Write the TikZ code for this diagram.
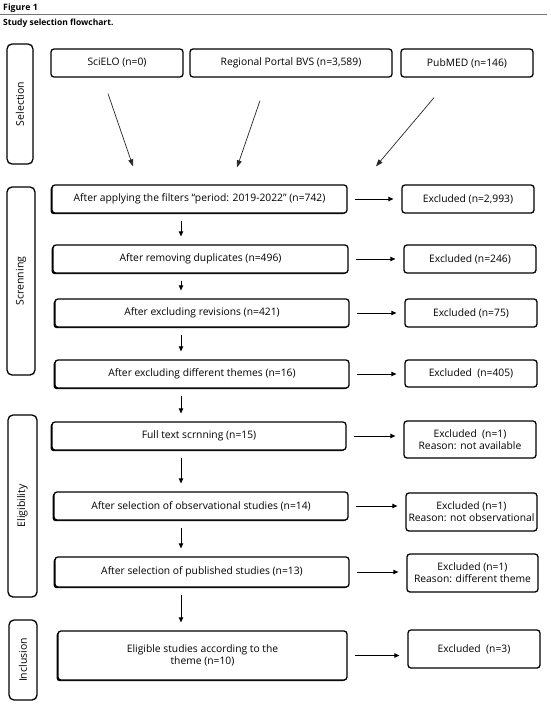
\documentclass[tikz,border=0pt]{standalone}
\usepackage{fontspec}
\setmainfont{Open Sans}
\usetikzlibrary{arrows.meta,shadows,calc}
\begin{document}
\begin{tikzpicture}[x=1pt,y=-1pt,
  box/.style={draw, line width=1.3pt, rounded corners=3pt, fill=white, inner sep=0pt,
    font=\fontsize{10.3}{12}\selectfont, align=center},
  flowbox/.style={box, drop shadow={shadow xshift=-1.4pt, shadow yshift=-1.2pt, fill=black, opacity=1}},
  sidebox/.style={draw, line width=1.3pt, rounded corners=5pt, fill=white, inner sep=0pt,
    rotate=90, font=\fontsize{10.5}{12}\selectfont},
  arr/.style={-{Triangle[length=5pt,width=4.5pt]}, line width=0.8pt},
  darr/.style={-{Triangle[length=7pt,width=5pt]}, line width=0.7pt, draw=black!85}
]
\useasboundingbox (0,0) rectangle (550,704);
% header
\node[anchor=base west, inner sep=0pt, font=\bfseries\fontsize{8.8}{10}\selectfont] (fig) at (3,10.5) {Figure 1};
\draw[line width=1.5pt, draw=black!55] (0,14.5) -- (547,14.5);
\node[anchor=base west, inner sep=0pt, font=\bfseries\fontsize{8.5}{10}\selectfont] (cap) at (3,25) {Study selection flowchart.};

% side labels
\node[sidebox, minimum width=120, minimum height=26] (selL) at (20,104) {Selection};
\node[sidebox, minimum width=188, minimum height=28] (scrL) at (21,281) {Screnning};
\node[sidebox, minimum width=182, minimum height=29] (eliL) at (22.5,506) {Eligibility};
\node[sidebox, minimum width=80, minimum height=28] (incL) at (23,660) {Inclusion};

% sources
\node[box, minimum width=132, minimum height=28] (sci) at (117,63) {SciELO (n=0)};
\node[box, minimum width=202, minimum height=28] (bvs) at (291,63) {Regional Portal BVS (n=3,589)};
\node[box, minimum width=132, minimum height=28] (pub) at (467,63) {PubMED (n=146)};

% flow boxes
\node[flowbox, minimum width=295, minimum height=28] (f1) at (199.5,199) {After applying the filters “period: 2019-2022” (n=742)};
\node[flowbox, minimum width=295, minimum height=28] (f2) at (200.5,259) {After removing duplicates (n=496)};
\node[flowbox, minimum width=294, minimum height=28] (f3) at (202,313) {After excluding revisions (n=421)};
\node[flowbox, minimum width=294, minimum height=28] (f4) at (202,374) {After excluding different themes (n=16)};
\node[flowbox, minimum width=294, minimum height=28] (f5) at (199,436) {Full text scrnning (n=15)};
\node[flowbox, minimum width=294, minimum height=28] (f6) at (201,506) {After selection of observational studies (n=14)};
\node[flowbox, minimum width=294, minimum height=30] (f7) at (202,572) {After selection of published studies (n=13)};
\node[flowbox, minimum width=289, minimum height=49] (f8) at (202.5,655.5) {Eligible studies according to the\\theme (n=10)};

% excluded boxes
\node[box, minimum width=132, minimum height=28] (e1) at (468,199) {Excluded (n=2,993)};
\node[box, minimum width=132, minimum height=28] (e2) at (470,259) {Excluded (n=246)};
\node[box, minimum width=132, minimum height=28] (e3) at (471,313) {Excluded (n=75)};
\node[box, minimum width=132, minimum height=27] (e4) at (471,373.5) {Excluded\ \ (n=405)};
\node[box, minimum width=132, minimum height=37] (e5) at (470,439.5) {Excluded\ \ (n=1)\\Reason: not available};
\node[box, minimum width=131, minimum height=38] (e6) at (471.5,512) {Excluded (n=1)\\Reason: not observational};
\node[box, minimum width=131, minimum height=38] (e7) at (472.5,573) {Excluded (n=1)\\Reason: different theme};
\node[box, minimum width=132, minimum height=38] (e8) at (474,649) {Excluded\ \ (n=3)};

% diagonal arrows
\draw[darr] ($(sci.south)+(-9,16)$) -- ($(f1.north)+(-66.5,-18)$);
\draw[darr] ($(bvs.south)+(-31,23)$) -- ($(f1.north)+(37.5,-17)$);
\draw[darr] ($(pub.south)+(-33,20)$) -- ($(f1.north)+(176.5,-18)$);

% vertical arrows
\coordinate (ax) at (181,0);
\foreach \a/\b in {f1/f2,f2/f3,f3/f4,f4/f5,f5/f6,f6/f7,f7/f8}
  \draw[arr, shorten <=7pt, shorten >=8pt] (\a.south -| ax) -- (\b.north -| ax);

% horizontal arrows
\foreach \a/\b in {f1/e1,f2/e2,f3/e3,f4/e4,f5/e5,f6/e6,f7/e7,f8/e8}
  \draw[arr, shorten <=7pt, shorten >=8pt] (\a.east) -- (\a.east -| \b.west);
\end{tikzpicture}
\end{document}
